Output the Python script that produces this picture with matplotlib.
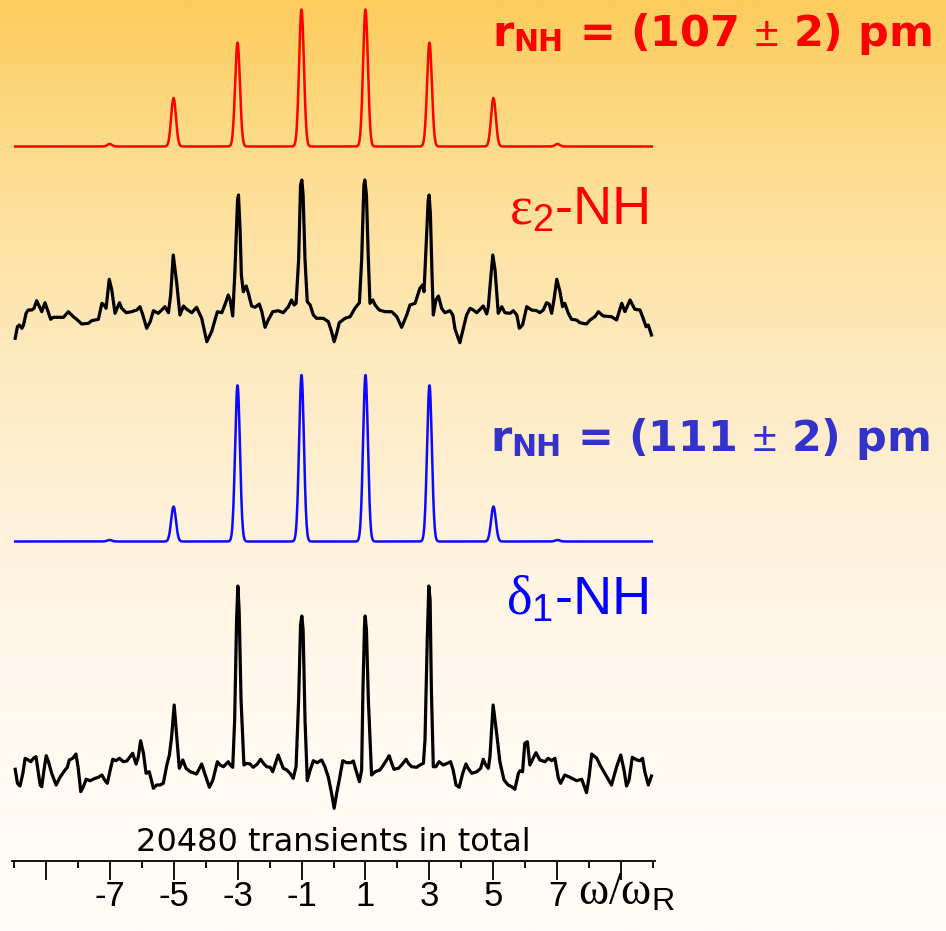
import numpy as np
import matplotlib
matplotlib.use("Agg")
import matplotlib.pyplot as plt
from matplotlib.colors import LinearSegmentedColormap

plt.rcParams.update({
    "mathtext.fontset": "custom",
    "mathtext.rm": "Liberation Serif",
    "mathtext.sf": "Liberation Sans",
    "mathtext.bf": "DejaVu Sans:bold",
    "mathtext.it": "Liberation Serif:italic",
})

# ---------------------------------------------------------------- data
# spinning-sideband orders (omega / omega_R) and simulated intensities
orders = np.array([-7, -5, -3, -1, 1, 3, 5, 7])
sim_r107 = np.array([2.5, 48.5, 104, 137, 137, 104, 48.5, 2.5])      # r_NH = 107 pm
sim_r111 = np.array([1.5, 35, 156.5, 166.5, 166.5, 156.5, 35, 1.5])  # r_NH = 111 pm

# measured sideband spectrum, eps2-NH  (omega/omega_R, intensity)
exp_eps2 = np.array([
    [-9.95, -22.3], [-9.88, -10.7], [-9.82, -9], [-9.74, -12.3], [-9.69, -9],
    [-9.61, 2.7], [-9.54, 6], [-9.43, 6], [-9.36, 7.7], [-9.28, 15.3],
    [-9.19, 9.3], [-9.12, 4.3], [-9.02, 13.3], [-8.94, 6], [-8.84, -3.3],
    [-8.76, -1.3], [-8.65, -1.3], [-8.44, -1.3], [-8.29, 4.3], [-8.13, -0.7],
    [-8.03, -3.3], [-7.87, -8], [-7.66, -7.3], [-7.56, -4.7], [-7.35, -3.3],
    [-7.24, 12.7], [-7.17, 11], [-7.11, 7.7], [-7.01, 36.7], [-6.93, 26],
    [-6.83, 2.7], [-6.69, 13.3], [-6.62, 7.7], [-6.48, 3.3], [-6.31, 4.3],
    [-6.15, 6], [-6.05, 9.3], [-5.96, 1], [-5.84, -12.3], [-5.73, -5.7],
    [-5.63, 5.3], [-5.48, 2.7], [-5.37, 6], [-5.27, 9.3], [-5.16, 3.3],
    [-5.09, 21], [-5.01, 61], [-4.90, 32.7], [-4.80, 1], [-4.69, 10],
    [-4.59, 6.7], [-4.43, 3.3], [-4.28, 8.7], [-4.12, -2.3], [-3.96, -25.7],
    [-3.81, -15.7], [-3.63, 4.3], [-3.49, 3.3], [-3.36, 14.3], [-3.29, 21],
    [-3.23, 16], [-3.15, 0], [-3.08, 46], [-3.00, 116], [-2.97, 121],
    [-2.92, 86], [-2.88, 41], [-2.82, 24.3], [-2.73, 30], [-2.66, 22.7],
    [-2.56, 10], [-2.45, 8.7], [-2.32, 12], [-2.24, 4.3], [-2.14, -11.3],
    [-2.04, -4], [-1.90, 4.3], [-1.73, 5.3], [-1.57, 3.3], [-1.41, 9.3],
    [-1.31, 16], [-1.23, 11], [-1.17, 12.7], [-1.09, 56], [-1.03, 131],
    [-0.99, 136], [-0.95, 121], [-0.89, 56], [-0.82, 14.3], [-0.73, 11],
    [-0.63, 1], [-0.53, -2.3], [-0.32, -2.3], [-0.16, -5.7], [-0.06, -15.7],
    [0.02, -25.7], [0.10, -17.3], [0.18, -6.7], [0.36, -2.3], [0.52, -0.7],
    [0.67, 7.7], [0.81, 13.3], [0.88, 56], [0.95, 131], [0.98, 136],
    [1.03, 121], [1.09, 56], [1.14, 12.7], [1.23, 16], [1.30, 11],
    [1.43, 6], [1.61, 4.3], [1.82, 4.3], [1.98, -0.7], [2.13, -11.3],
    [2.29, 1], [2.39, 11], [2.55, 12.7], [2.70, 27.7], [2.78, 31],
    [2.83, 24.3], [2.89, 66], [2.96, 116], [2.99, 121], [3.03, 101],
    [3.08, 41], [3.12, 1], [3.20, 16], [3.28, 20], [3.38, 7.7],
    [3.48, 3.3], [3.64, 5.3], [3.73, 1], [3.80, -13.3], [3.95, -26.7],
    [4.06, -12.3], [4.16, 1], [4.27, 7.7], [4.37, 6], [4.48, 3.3],
    [4.68, 10], [4.79, 2], [4.84, 9.3], [4.91, 36], [4.98, 61],
    [5.05, 46], [5.15, 2.7], [5.26, 9.3], [5.36, 3.3], [5.52, 2.7],
    [5.62, 5.3], [5.73, 1], [5.81, -12.3], [5.91, -9], [6.04, 9.3],
    [6.19, 6], [6.35, 5.3], [6.45, 3.3], [6.56, 6], [6.66, 13.3],
    [6.74, 12], [6.82, 2.7], [6.89, 16], [6.98, 36.7], [7.08, 24.3],
    [7.16, 9.3], [7.23, 12.7], [7.34, 2.7], [7.44, -3.3], [7.60, -4],
    [7.70, -6.7], [7.91, -8], [8.02, -4], [8.17, -0.7], [8.28, 4.3],
    [8.43, 0], [8.69, -0.7], [8.85, -4], [9.01, 12.7], [9.11, 4.3],
    [9.27, 16], [9.42, 6.7], [9.58, 6], [9.68, -2.3], [9.77, -10.7],
    [9.84, -9], [9.94, -19],
])

# measured sideband spectrum, delta1-NH  (omega/omega_R, intensity)
exp_delta1 = np.array([
    [-9.95, -3.3], [-9.88, -17.3], [-9.80, -20], [-9.71, -7.3], [-9.64, 7.7],
    [-9.54, 6], [-9.46, 4.3], [-9.38, 7.7], [-9.30, 9.3], [-9.23, -5.7],
    [-9.17, -19], [-9.12, -20.7], [-9.05, -4], [-8.98, 10.3], [-8.91, 4.3],
    [-8.81, -7.3], [-8.67, -19], [-8.55, -11.3], [-8.39, -4], [-8.32, -1.3],
    [-8.26, 6], [-8.15, 7.7], [-8.05, 12], [-7.98, -2.3], [-7.90, -25.7],
    [-7.82, -20.7], [-7.73, -13.3], [-7.61, -14.7], [-7.45, -12.3], [-7.35, -11.3],
    [-7.24, -9], [-7.14, -14.7], [-7.07, -17.3], [-6.98, -4], [-6.90, 6.7],
    [-6.80, 5.3], [-6.69, 7.7], [-6.57, 4.3], [-6.46, 5], [-6.36, 9.3],
    [-6.28, 12.7], [-6.17, 2], [-6.10, 9.3], [-6.03, 25.3], [-5.94, 12.7],
    [-5.86, -7.3], [-5.76, -5.7], [-5.63, -22.3], [-5.53, -19], [-5.42, -19],
    [-5.32, -17.3], [-5.21, 1], [-5.13, 11], [-5.06, 29.3], [-4.98, 61],
    [-4.90, 29.3], [-4.82, -2.3], [-4.71, 6], [-4.61, -2.3], [-4.48, -5.7],
    [-4.28, -8], [-4.19, -2.3], [-4.12, 2], [-4.01, -9], [-3.88, -21.3],
    [-3.77, -14], [-3.63, 4.3], [-3.55, 1], [-3.44, -0.7], [-3.29, 4.3],
    [-3.23, 1], [-3.15, -1.3], [-3.09, 46], [-3.03, 146], [-2.99, 180],
    [-2.95, 156], [-2.89, 66], [-2.80, 1], [-2.71, 2.7], [-2.61, 2],
    [-2.51, -1.3], [-2.38, 2], [-2.28, 6.7], [-2.19, 2.7], [-2.09, -0.7],
    [-1.98, -1.3], [-1.90, -5.7], [-1.83, 1], [-1.73, 11], [-1.65, 4.3],
    [-1.57, -2.3], [-1.46, -4], [-1.36, -7.3], [-1.26, -12.3], [-1.17, -0.7],
    [-1.09, 66], [-1.03, 141], [-0.99, 150], [-0.95, 136], [-0.89, 46],
    [-0.82, -14.7], [-0.73, -4], [-0.63, 5.3], [-0.51, 3.3], [-0.37, 6],
    [-0.27, -0.7], [-0.16, -11.3], [-0.06, -27.3], [0.02, -42.3], [0.10, -27.3],
    [0.18, -14], [0.29, 5.3], [0.41, 3.3], [0.54, 3.3], [0.62, 5],
    [0.70, -4], [0.81, -15.7], [0.88, -4], [0.92, 76], [0.97, 141],
    [0.99, 150], [1.03, 136], [1.09, 66], [1.19, -9], [1.30, -5.7],
    [1.45, -4], [1.56, 1], [1.66, 6], [1.74, 10.3], [1.82, 2.7],
    [1.89, -3.3], [2.03, -2.3], [2.13, 1], [2.27, 6.7], [2.34, 2.7],
    [2.44, -0.7], [2.60, -1.3], [2.70, 1], [2.81, 2.7], [2.86, 26],
    [2.93, 126], [2.98, 180], [3.02, 166], [3.06, 76], [3.12, -0.7],
    [3.20, -0.7], [3.30, 4.3], [3.43, 1], [3.56, 2.7], [3.66, 4.3],
    [3.74, -4], [3.83, -19], [3.93, -21.3], [4.04, -7.3], [4.14, 2],
    [4.21, -2.3], [4.32, -7.3], [4.48, -5.7], [4.60, -2.3], [4.68, 6.7],
    [4.76, 1], [4.84, -2.3], [4.89, 9.3], [4.99, 61], [5.10, 32.7],
    [5.20, 4.3], [5.33, -14], [5.46, -19], [5.57, -20.7], [5.67, -23.3],
    [5.78, -7.3], [5.83, -4.7], [5.91, -5.7], [5.98, 22.7], [6.06, 24.3],
    [6.14, 1], [6.24, 7.7], [6.33, 13.3], [6.45, 6], [6.61, 4.3],
    [6.71, 7.7], [6.82, 5.3], [6.92, 7.7], [7.03, -12.3], [7.10, -17.3],
    [7.23, -9], [7.39, -11.3], [7.60, -14.7], [7.76, -13.3], [7.91, -26.7],
    [7.99, -10.7], [8.07, 12], [8.23, 7.7], [8.33, 1], [8.48, -7.3],
    [8.69, -19], [8.85, -0.7], [8.98, 11], [9.08, -4], [9.16, -20],
    [9.24, -14], [9.34, 8.7], [9.48, 6], [9.58, 5.3], [9.66, 7.7],
    [9.73, -5.7], [9.84, -19], [9.94, -10],
])

tick_values = [-9, -7, -5, -3, -1, 1, 3, 5, 7, 9]
tick_labels = ["", "-7", "-5", "-3", "-1", "1", "3", "5", "7", ""]

# vertical stacking of the four traces (intensity units)
offset_r107, offset_eps2, offset_r111, offset_delta1 = 714.5, 545, 319.5, 95

# ---------------------------------------------------------------- figure
fig = plt.figure(figsize=(9.46, 9.31), dpi=100)

# warm background gradient, orange at the top fading to white
bg = fig.add_axes([0, 0, 1, 1], zorder=0)
grad_cmap = LinearSegmentedColormap.from_list("warm", [
    (0.00, (252/255, 204/255, 92/255)),
    (0.17, (253/255, 221/255, 143/255)),
    (0.38, (254/255, 233/255, 190/255)),
    (0.58, (255/255, 243/255, 222/255)),
    (0.80, (255/255, 250/255, 241/255)),
    (1.00, (255/255, 253/255, 249/255)),
])
bg.imshow(np.linspace(0, 1, 512)[:, None], aspect="auto", cmap=grad_cmap,
          extent=[0, 1, 0, 1])
bg.set_axis_off()

ax = fig.add_axes([12/946, 1 - 861/931, 643/946, 861/931], zorder=1)
ax.set_facecolor("none")
ax.set_xlim(-10.05, 10.05)
ax.set_ylim(0, 861)
for side in ("left", "right", "top"):
    ax.spines[side].set_visible(False)
ax.spines["bottom"].set_linewidth(1.3)
ax.set_yticks([])

ax.set_xticks(tick_values)
ax.set_xticklabels(tick_labels)
ax.set_xticks(np.arange(-10, 11, 2), minor=True)
ax.tick_params(axis="x", which="major", length=14, width=1.3, pad=0,
               labelsize=25, direction="out")
ax.tick_params(axis="x", which="minor", length=5, width=1.3, direction="out")
for lab in ax.get_xticklabels():
    lab.set_family(["Liberation Sans Narrow", "Liberation Sans"])

# simulated spectra: Gaussian lines at each sideband order
grid = np.linspace(-9.95, 9.95, 1600)
sigma = 0.075


def sideband_spectrum(amplitudes):
    return (amplitudes[:, None] *
            np.exp(-(grid[None, :] - orders[:, None])**2 / (2 * sigma**2))).sum(0)


ax.plot(grid, sideband_spectrum(sim_r107) + offset_r107, color="#ff0000", lw=1.8)
ax.plot(exp_eps2[:, 0], exp_eps2[:, 1] + offset_eps2, color="black", lw=2.3,
        solid_joinstyle="round")
ax.plot(grid, sideband_spectrum(sim_r111) + offset_r111, color="#0a0aff", lw=1.8)
ax.plot(exp_delta1[:, 0], exp_delta1[:, 1] + offset_delta1, color="black", lw=2.3,
        solid_joinstyle="round")

# annotations
ax.text(4.95, 815, r"r$_{\mathbf{NH}}$ = (107 $\mathsf{\pm}$ 2) pm", color="#ff0000",
        fontsize=31, fontweight="bold", family="DejaVu Sans",
        ha="left", va="baseline", clip_on=False)
ax.text(9.83, 636, r"$\mathrm{\varepsilon}_{\mathsf{2}}$-NH", color="#ff0000",
        fontsize=39, family="Liberation Sans", ha="right", va="baseline")
ax.text(4.9, 410, r"r$_{\mathbf{NH}}$ = (111 $\mathsf{\pm}$ 2) pm", color="#3333cc",
        fontsize=31, fontweight="bold", family="DejaVu Sans",
        ha="left", va="baseline", clip_on=False)
ax.text(9.83, 246, r"$\mathrm{\delta}_{\mathsf{1}}$-NH", color="#0000ff",
        fontsize=39, family="Liberation Sans", ha="right", va="baseline")
ax.text(0.0, 10, "20480 transients in total", color="black", fontsize=23,
        family="DejaVu Sans", ha="center", va="baseline")
ax.text(7.65, -44, r"$\mathrm{\omega/\omega}_{\mathsf{R}}$", color="black",
        fontsize=33, family="Liberation Sans", ha="left", va="baseline",
        clip_on=False)

fig.savefig("out.png", dpi=100)
